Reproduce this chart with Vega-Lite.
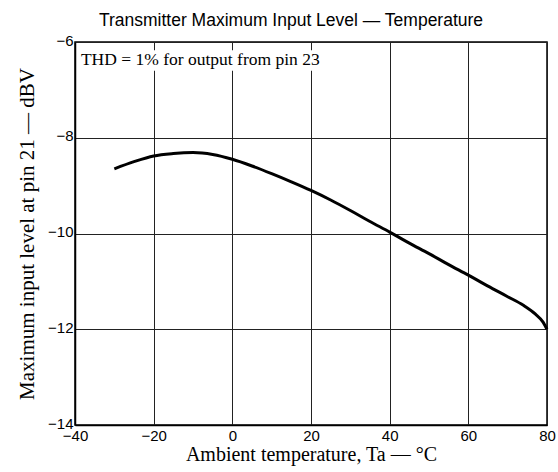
{
  "$schema": "https://vega.github.io/schema/vega-lite/v6.json",
  "autosize": "none",
  "width": 472,
  "height": 383,
  "padding": {"left": 75, "top": 42, "right": 11, "bottom": 47},
  "background": "white",
  "title": {
    "text": "Transmitter Maximum Input Level — Temperature",
    "font": "Liberation Sans",
    "fontSize": 17.5,
    "fontWeight": "normal",
    "color": "black",
    "anchor": "middle",
    "dx": -20,
    "offset": 4
  },
  "config": {
    "view": {"stroke": "black", "strokeWidth": 1.5},
    "axis": {
      "labelFont": "Liberation Sans",
      "labelFontSize": 15,
      "labelColor": "black",
      "titleFont": "Liberation Serif",
      "titleFontSize": 21,
      "titleFontWeight": "normal",
      "titleColor": "black",
      "gridColor": "#222",
      "gridWidth": 1,
      "gridOpacity": 1,
      "domainColor": "black",
      "domainWidth": 1.5,
      "ticks": false
    }
  },
  "datasets": {
    "curve": [
      {"temp": -30, "level": -8.65},
      {"temp": -25, "level": -8.5},
      {"temp": -20, "level": -8.38},
      {"temp": -15, "level": -8.33},
      {"temp": -10, "level": -8.31},
      {"temp": -5, "level": -8.35},
      {"temp": 0, "level": -8.45},
      {"temp": 5, "level": -8.59},
      {"temp": 10, "level": -8.75},
      {"temp": 15, "level": -8.92},
      {"temp": 20, "level": -9.1},
      {"temp": 25, "level": -9.3},
      {"temp": 30, "level": -9.52},
      {"temp": 35, "level": -9.75},
      {"temp": 40, "level": -9.97},
      {"temp": 45, "level": -10.2},
      {"temp": 50, "level": -10.42},
      {"temp": 55, "level": -10.65},
      {"temp": 60, "level": -10.87},
      {"temp": 65, "level": -11.1},
      {"temp": 70, "level": -11.32},
      {"temp": 74, "level": -11.5},
      {"temp": 77, "level": -11.68},
      {"temp": 79, "level": -11.85},
      {"temp": 80, "level": -12.0}
    ],
    "note": [
      {"label": "THD = 1% for output from pin 23"}
    ]
  },
  "layer": [
    {
      "data": {"name": "curve"},
      "mark": {"type": "line", "color": "black", "strokeWidth": 3, "interpolate": "monotone"},
      "encoding": {
        "x": {
          "field": "temp",
          "type": "quantitative",
          "scale": {"domain": [-40, 80], "nice": false},
          "axis": {
            "values": [-40, -20, 0, 20, 40, 60, 80],
            "title": "Ambient temperature, Ta — °C",
            "titleFontSize": 20,
            "labelPadding": 3,
            "titlePadding": 1,
            "labelFlush": false
          }
        },
        "y": {
          "field": "level",
          "type": "quantitative",
          "scale": {"domain": [-14, -6], "nice": false, "zero": false},
          "axis": {
            "values": [-14, -12, -10, -8, -6],
            "title": "Maximum input level at pin 21 — dBV",
            "labelPadding": 2,
            "labelBaseline": "middle",
            "labelOffset": -2,
            "titlePadding": 10
          }
        }
      }
    },
    {
      "data": {"name": "note"},
      "mark": {"type": "rect", "color": "white"},
      "encoding": {
        "x": {"datum": -38.5},
        "x2": {"datum": 23.5},
        "y": {"datum": -6.17},
        "y2": {"datum": -6.6}
      }
    },
    {
      "data": {"name": "note"},
      "mark": {"type": "text", "font": "Liberation Serif", "fontSize": 17.5, "align": "left", "baseline": "middle", "color": "black"},
      "encoding": {
        "x": {"datum": -38.5},
        "y": {"datum": -6.38},
        "text": {"field": "label"}
      }
    }
  ]
}
